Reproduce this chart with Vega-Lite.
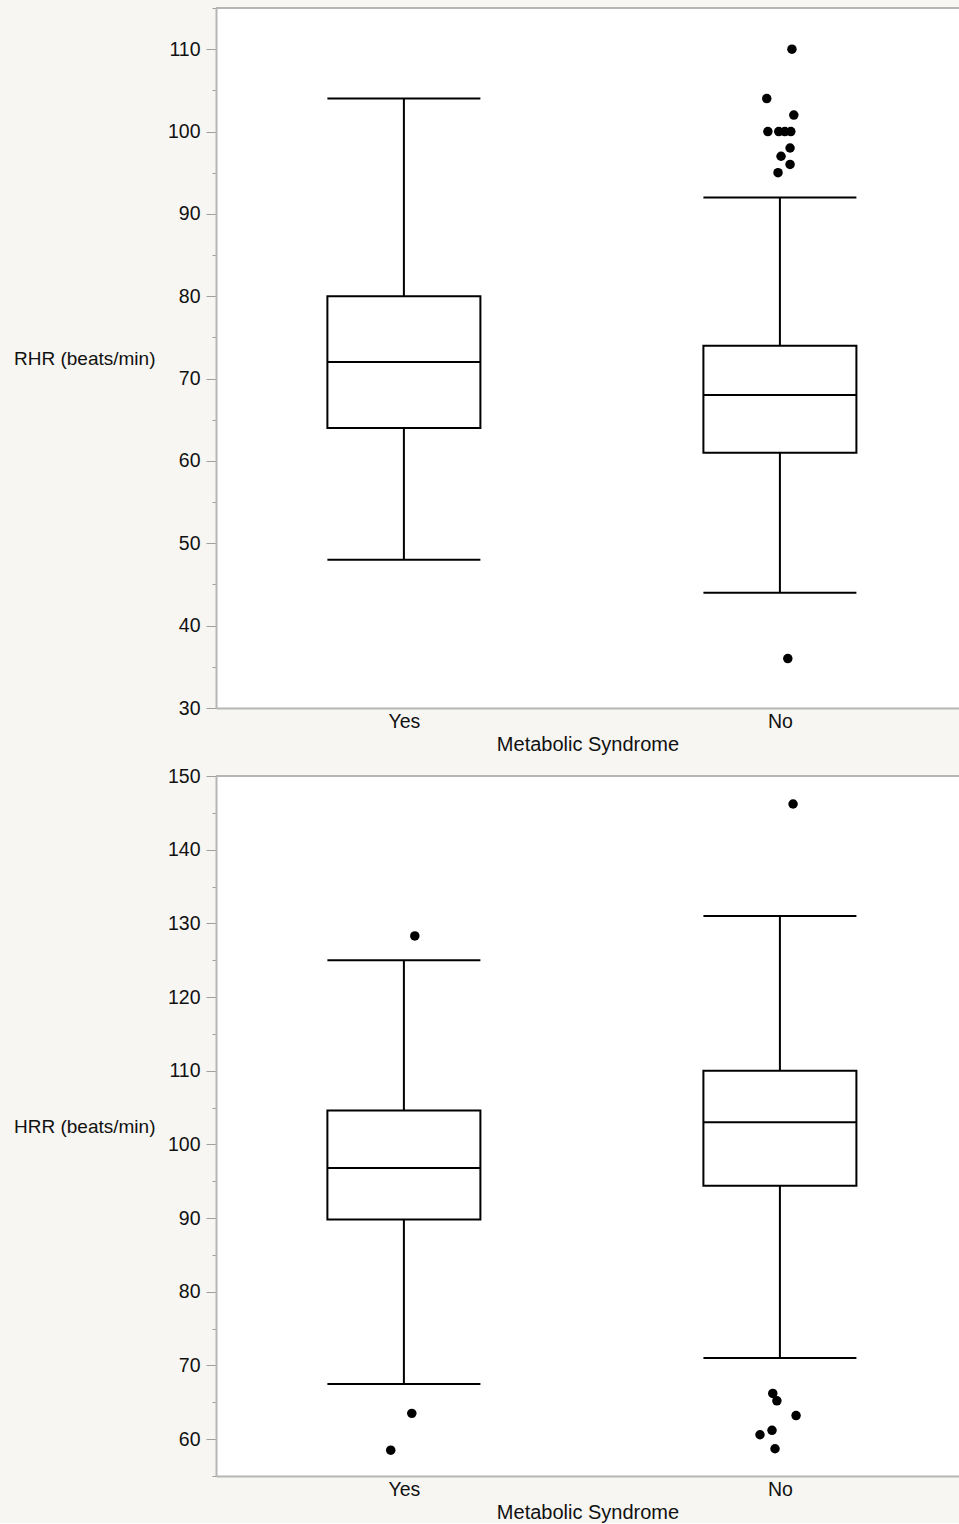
{
  "$schema": "https://vega.github.io/schema/vega-lite/v6.json",
  "background": "#f7f6f3",
  "padding": {"left": 13, "top": 7, "right": 0, "bottom": 0},
  "spacing": 11,
  "config": {
    "view": {"stroke": null, "fill": "white"},
    "font": "Liberation Sans",
    "axis": {
      "grid": false,
      "labelFontSize": 19.5,
      "titleFontSize": 19,
      "labelColor": "#111111",
      "titleColor": "#111111",
      "titleFontWeight": "normal",
      "domainColor": "#b5b5b5",
      "domainWidth": 2,
      "tickColor": "#a0a0a0",
      "tickWidth": 1
    }
  },
  "datasets": {
    "rhr_stats": [
      {"group": "Yes", "low": 48, "q1": 64, "median": 72, "q3": 80, "high": 104},
      {"group": "No", "low": 44, "q1": 61, "median": 68, "q3": 74, "high": 92}
    ],
    "rhr_out": [
      {"group": "No", "value": 110, "jitter": 0.032},
      {"group": "No", "value": 104, "jitter": -0.035},
      {"group": "No", "value": 102, "jitter": 0.037},
      {"group": "No", "value": 100, "jitter": -0.032},
      {"group": "No", "value": 100, "jitter": -0.003},
      {"group": "No", "value": 100, "jitter": 0.013},
      {"group": "No", "value": 100, "jitter": 0.029},
      {"group": "No", "value": 98, "jitter": 0.027},
      {"group": "No", "value": 97, "jitter": 0.003},
      {"group": "No", "value": 96, "jitter": 0.027},
      {"group": "No", "value": 95, "jitter": -0.005},
      {"group": "No", "value": 36, "jitter": 0.021}
    ],
    "hrr_stats": [
      {"group": "Yes", "low": 67.5, "q1": 89.8, "median": 96.8, "q3": 104.6, "high": 125},
      {"group": "No", "low": 71, "q1": 94.4, "median": 103, "q3": 110, "high": 131}
    ],
    "hrr_out": [
      {"group": "Yes", "value": 128.3, "jitter": 0.029},
      {"group": "Yes", "value": 63.5, "jitter": 0.021},
      {"group": "Yes", "value": 58.5, "jitter": -0.035},
      {"group": "No", "value": 146.2, "jitter": 0.035},
      {"group": "No", "value": 66.2, "jitter": -0.019},
      {"group": "No", "value": 65.2, "jitter": -0.008},
      {"group": "No", "value": 63.2, "jitter": 0.043},
      {"group": "No", "value": 61.2, "jitter": -0.021},
      {"group": "No", "value": 60.6, "jitter": -0.053},
      {"group": "No", "value": 58.7, "jitter": -0.013}
    ],
    "top_edge": [{"edge": "top"}]
  },
  "vconcat": [
    {
      "width": 743,
      "height": 700,
      "encoding": {
        "x": {
          "field": "group", "type": "nominal", "sort": ["Yes", "No"],
          "scale": {"type": "point", "padding": 0.488, "align": 0.512},
          "axis": {"title": "Metabolic Syndrome", "labelAngle": 0, "ticks": false, "labelPadding": 4, "titlePadding": 4, "titleFontSize": 20}
        }
      },
      "layer": [
        {
          "data": {"name": "rhr_stats"},
          "mark": {"type": "rule", "color": "black", "strokeWidth": 2},
          "encoding": {
            "y": {
              "field": "low", "type": "quantitative",
              "scale": {"domain": [30, 115], "nice": false, "zero": false},
              "axis": {
                "title": "RHR (beats/min)", "titleAngle": 0, "titleAlign": "right", "titleBaseline": "middle",
                "titleX": -61, "titleY": 350,
                "values": [30, 35, 40, 45, 50, 55, 60, 65, 70, 75, 80, 85, 90, 95, 100, 105, 110, 115],
                "tickCount": 50,
                "labelExpr": "datum.value % 10 === 0 ? datum.label : ''",
                "tickSize": {"condition": {"test": "datum.value % 10 === 0", "value": 10}, "value": 4},
                "labelPadding": 6
              }
            },
            "y2": {"field": "high"}
          }
        },
        {
          "data": {"name": "rhr_stats"},
          "mark": {"type": "bar", "size": 153, "fill": "white", "stroke": "black", "strokeWidth": 2},
          "encoding": {"y": {"field": "q1", "type": "quantitative"}, "y2": {"field": "q3"}}
        },
        {
          "data": {"name": "rhr_stats"},
          "mark": {"type": "tick", "size": 153, "thickness": 2, "color": "black", "opacity": 1},
          "encoding": {"y": {"field": "median", "type": "quantitative"}}
        },
        {
          "data": {"name": "rhr_stats"},
          "mark": {"type": "tick", "size": 153, "thickness": 2, "color": "black", "opacity": 1},
          "encoding": {"y": {"field": "low", "type": "quantitative"}}
        },
        {
          "data": {"name": "rhr_stats"},
          "mark": {"type": "tick", "size": 153, "thickness": 2, "color": "black", "opacity": 1},
          "encoding": {"y": {"field": "high", "type": "quantitative"}}
        },
        {
          "data": {"name": "rhr_out"},
          "mark": {"type": "point", "filled": true, "size": 90, "color": "black", "opacity": 1},
          "encoding": {
            "y": {"field": "value", "type": "quantitative"},
            "xOffset": {"field": "jitter", "type": "quantitative", "scale": {"domain": [-0.1, 0.1], "range": [-37.6, 37.6]}}
          }
        },
        {
          "data": {"name": "top_edge"},
          "mark": {"type": "rule", "color": "#b5b5b5", "strokeWidth": 2},
          "encoding": {"x": null, "y": {"datum": 115, "type": "quantitative"}}
        }
      ]
    },
    {
      "width": 743,
      "height": 700,
      "encoding": {
        "x": {
          "field": "group", "type": "nominal", "sort": ["Yes", "No"],
          "scale": {"type": "point", "padding": 0.488, "align": 0.512},
          "axis": {"title": "Metabolic Syndrome", "labelAngle": 0, "ticks": false, "labelPadding": 4, "titlePadding": 4, "titleFontSize": 20}
        }
      },
      "layer": [
        {
          "data": {"name": "hrr_stats"},
          "mark": {"type": "rule", "color": "black", "strokeWidth": 2},
          "encoding": {
            "y": {
              "field": "low", "type": "quantitative",
              "scale": {"domain": [55, 150], "nice": false, "zero": false},
              "axis": {
                "title": "HRR (beats/min)", "titleAngle": 0, "titleAlign": "right", "titleBaseline": "middle",
                "titleX": -61, "titleY": 350,
                "values": [55, 60, 65, 70, 75, 80, 85, 90, 95, 100, 105, 110, 115, 120, 125, 130, 135, 140, 145, 150],
                "tickCount": 50,
                "labelExpr": "datum.value % 10 === 0 ? datum.label : ''",
                "tickSize": {"condition": {"test": "datum.value % 10 === 0", "value": 10}, "value": 4},
                "labelPadding": 6
              }
            },
            "y2": {"field": "high"}
          }
        },
        {
          "data": {"name": "hrr_stats"},
          "mark": {"type": "bar", "size": 153, "fill": "white", "stroke": "black", "strokeWidth": 2},
          "encoding": {"y": {"field": "q1", "type": "quantitative"}, "y2": {"field": "q3"}}
        },
        {
          "data": {"name": "hrr_stats"},
          "mark": {"type": "tick", "size": 153, "thickness": 2, "color": "black", "opacity": 1},
          "encoding": {"y": {"field": "median", "type": "quantitative"}}
        },
        {
          "data": {"name": "hrr_stats"},
          "mark": {"type": "tick", "size": 153, "thickness": 2, "color": "black", "opacity": 1},
          "encoding": {"y": {"field": "low", "type": "quantitative"}}
        },
        {
          "data": {"name": "hrr_stats"},
          "mark": {"type": "tick", "size": 153, "thickness": 2, "color": "black", "opacity": 1},
          "encoding": {"y": {"field": "high", "type": "quantitative"}}
        },
        {
          "data": {"name": "hrr_out"},
          "mark": {"type": "point", "filled": true, "size": 90, "color": "black", "opacity": 1},
          "encoding": {
            "y": {"field": "value", "type": "quantitative"},
            "xOffset": {"field": "jitter", "type": "quantitative", "scale": {"domain": [-0.1, 0.1], "range": [-37.6, 37.6]}}
          }
        },
        {
          "data": {"name": "top_edge"},
          "mark": {"type": "rule", "color": "#b5b5b5", "strokeWidth": 2},
          "encoding": {"x": null, "y": {"datum": 150, "type": "quantitative"}}
        }
      ]
    }
  ]
}
